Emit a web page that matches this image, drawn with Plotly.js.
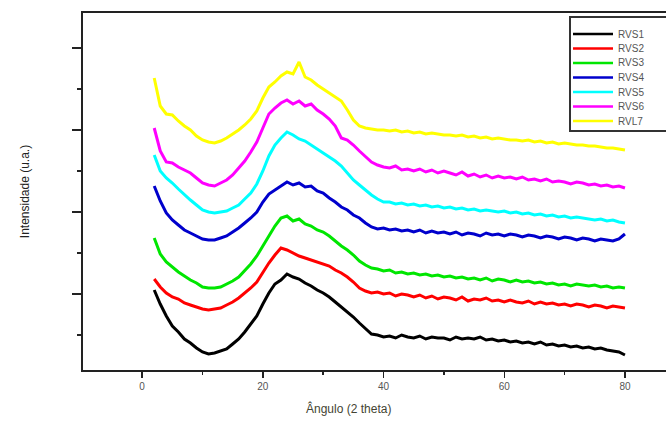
<!DOCTYPE html>
<html>
<head>
<meta charset="utf-8">
<script src="https://cdn.plot.ly/plotly-3.0.1.min.js"></script>
<style>html,body{margin:0;padding:0;background:#fff;}#chart{width:666px;height:422px;}</style>
</head>
<body>
<div id="chart"></div>
<script>
// 2-theta angle (degrees)
const angle = [2,3,4,5,6,7,8,9,10,11,12,13,14,15,16,17,18,19,20,21,22,23,24,25,26,27,28,29,30,31,32,33,34,35,36,37,38,39,40,41,42,43,44,45,46,47,48,49,50,51,52,53,54,55,56,57,58,59,60,61,62,63,64,65,66,67,68,69,70,71,72,73,74,75,76,77,78,79,80];

// Intensity (arbitrary units, curves offset as in the figure)
const RVS1 = [86,72,60,50,44,37,33,28,24,22,23,25,27,32,37,44,52,60,72,83,92,96,102,99,97,93,90,86,83,79,74,69,64,59,53,47,42,41,39,40,38,41,39,38,40,37,39,38,38,36,39,37,38,37,39,36,37,35,36,34,35,33,34,32,34,31,32,30,31,29,30,28,29,27,28,26,25,24,21];
const RVS2 = [97,89,83,79,77,73,71,69,67,66,67,68,71,74,78,83,88,94,104,113,121,128,126,123,120,118,116,114,112,110,106,103,99,94,88,85,83,84,82,83,80,82,81,79,81,78,80,77,79,78,76,79,75,77,76,78,75,76,74,76,74,73,75,72,74,72,73,71,72,70,72,71,69,71,70,68,70,69,68];
const RVS3 = [138,122,114,109,104,100,96,93,89,88,88,89,92,95,99,105,112,120,130,141,150,158,160,155,157,152,150,146,144,140,135,130,126,121,115,111,108,107,105,106,103,104,102,103,101,102,100,101,99,100,98,99,97,98,96,98,95,97,96,94,96,94,95,93,94,92,93,91,92,90,92,91,90,91,89,90,88,89,88];
const RVS4 = [190,175,163,156,151,146,143,140,137,136,136,138,140,144,148,153,158,164,174,182,186,190,194,191,193,189,190,185,183,178,174,169,166,161,158,153,149,147,148,146,147,145,146,144,146,143,145,143,144,142,144,141,143,142,140,143,141,142,140,142,141,139,141,140,138,140,139,137,139,138,136,138,137,135,137,136,135,137,142];
const RVS5 = [221,205,198,193,187,181,176,171,166,164,163,164,165,168,171,177,183,192,205,220,231,238,244,241,237,235,231,227,223,219,215,210,203,196,191,186,181,177,174,174,172,173,171,172,170,171,169,170,168,169,167,168,166,167,165,166,165,164,165,163,164,162,163,161,162,160,161,159,160,158,159,158,157,156,157,155,156,154,153];
const RVS6 = [248,225,214,213,209,206,203,198,193,191,190,193,196,201,208,215,224,234,248,262,268,273,276,272,275,270,272,266,262,257,250,238,236,231,225,219,214,211,209,208,210,206,207,205,207,204,206,203,205,203,201,204,200,202,199,201,198,200,198,199,197,199,196,197,195,197,194,195,194,192,194,193,191,192,190,191,189,190,188];
const RVL7 = [298,270,262,261,255,250,246,240,236,234,233,235,238,242,246,251,257,265,278,289,294,300,304,302,314,299,296,291,287,283,279,275,266,256,250,248,247,246,246,245,246,244,245,243,244,242,243,242,241,241,240,241,239,240,238,239,237,238,237,236,236,235,236,234,235,233,234,232,233,232,231,231,230,230,229,228,228,227,226];

const names = ['RVS1','RVS2','RVS3','RVS4','RVS5','RVS6','RVL7'];
const series = [RVS1,RVS2,RVS3,RVS4,RVS5,RVS6,RVL7];
const colors = ['#000000','#ff0000','#00e600','#0000cc','#00ffff','#ff00ff','#ffff00'];

const xTicks = [0,20,40,60,80];

const traces = series.map((s,i)=>({
  x: angle, y: s, type:'scatter', mode:'lines', name: names[i],
  line:{color:colors[i], width:3}, showlegend:false
}));

// Compact legend box (drawn in paper coordinates, like the original figure's legend)
const W = 583, H = 357; // plot area size in px
const px = v => v / W, py = v => v / H;
const legLeft = px(487), legTop = 1 - py(4), legBottom = 1 - py(118);
const shapes = [{type:'rect', xref:'paper', yref:'paper', x0:legLeft, x1:1.05, y0:legBottom, y1:legTop,
  line:{color:'#333', width:2}, fillcolor:'#fff', layer:'above'}];
const annotations = [];
names.forEach((n,i)=>{
  const yy = 1 - py(21 + i*14.5);
  shapes.push({type:'line', xref:'paper', yref:'paper', x0:px(490), x1:px(530), y0:yy, y1:yy,
    line:{color:colors[i], width:2.5}, layer:'above'});
  annotations.push({xref:'paper', yref:'paper', x:px(533), y:yy, xanchor:'left', yanchor:'middle',
    text:n, showarrow:false, font:{size:10, color:'#555'}});
});
// x-axis title, centred on the original (wider) plotting frame
annotations.push({xref:'paper', yref:'paper', x:px(265), y:-py(38), xanchor:'center', yanchor:'middle',
  text:'Ângulo (2 theta)', showarrow:false, font:{size:12, color:'#443'}});

const layout = {
  width:666, height:422,
  margin:{l:83, r:0, t:13, b:52},
  paper_bgcolor:'#fff', plot_bgcolor:'#fff',
  font:{family:'Liberation Sans, Arial, sans-serif', color:'#444'},
  showlegend:false,
  shapes: shapes, annotations: annotations,
  xaxis:{range:[-9.8,86.8], tickvals:xTicks, ticktext:xTicks.map(String),
    showgrid:false, zeroline:false, showline:true, linecolor:'#222', linewidth:2,
    mirror:true, ticks:'outside', ticklen:6, tickwidth:1.5, tickcolor:'#222',
    tickfont:{size:10, color:'#555'},
    minor:{tickvals:[10,30,50,70], ticks:'outside', ticklen:3, tickcolor:'#222'}},
  yaxis:{range:[6,363], tick0:0, dtick:82, showticklabels:false,
    showgrid:false, zeroline:false, showline:true, linecolor:'#222', linewidth:2,
    ticks:'outside', ticklen:9, tickwidth:1.5, tickcolor:'#222',
    minor:{dtick:41, ticks:'outside', ticklen:4, tickcolor:'#222'},
    title:{text:'Intensidade (u.a.)', font:{size:12, color:'#222'}, standoff:40}}
};

Plotly.newPlot('chart', traces, layout, {displayModeBar:false, staticPlot:true});
</script>
</body>
</html>
